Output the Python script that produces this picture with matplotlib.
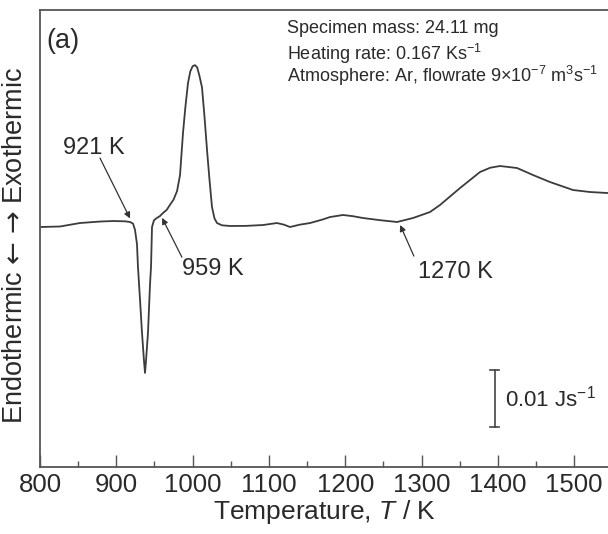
import matplotlib
matplotlib.use("Agg")
import matplotlib.pyplot as plt

FONT = ['Liberation Sans', 'DejaVu Sans']
plt.rcParams['font.family'] = FONT
plt.rcParams['mathtext.fontset'] = 'custom'
plt.rcParams['mathtext.rm'] = 'Liberation Sans'
plt.rcParams['mathtext.it'] = 'Liberation Sans:italic'
plt.rcParams['mathtext.sf'] = 'DejaVu Sans'
plt.rcParams['mathtext.default'] = 'regular'

# Temperature (K) and heat flow (mW, relative to baseline)
temperature = [800.0, 826.2, 852.4, 878.6, 895.7, 911.4, 918.0, 921.9, 924.5, 927.1,
               928.4, 931.1, 933.7, 936.3, 937.6, 938.9, 941.5, 944.2, 945.5, 946.8,
               949.4, 953.3, 957.0, 961.2, 966.0, 970.4, 975.0, 979.6, 983.5, 987.4,
               990.5, 994.0, 997.0, 1000.0, 1003.1, 1006.0, 1009.0, 1012.3, 1015.5, 1018.9,
               1022.0, 1025.4, 1028.7, 1032.0, 1038.5, 1049.0, 1070.0, 1092.3, 1110.6, 1120.0,
               1127.7, 1140.0, 1153.9, 1170.0, 1180.1, 1197.1, 1210.0, 1223.3, 1245.6, 1267.9,
               1288.9, 1311.1, 1324.2, 1350.5, 1376.7, 1390.0, 1402.9, 1425.2, 1446.1, 1468.4,
               1498.6, 1520.8, 1544.4]
heat_flow = [0.0, 0.09, 0.70, 0.96, 1.05, 1.0, 0.88, 0.6, -0.5, -3.0,
             -7.0, -12.8, -18.6, -23.5, -25.6, -23.5, -18.6, -10.0, -7.0, 0.0,
             1.2, 1.6, 1.9, 2.46, 3.0, 3.9, 4.8, 6.3, 9.1, 16.5,
             21.0, 25.3, 27.3, 28.2, 28.4, 28.0, 26.5, 24.5, 19.5, 13.5,
             8.5, 3.5, 1.5, 0.7, 0.3, 0.18, 0.2, 0.35, 0.70, 0.4,
             0.0, 0.4, 0.7, 1.3, 1.75, 2.11, 1.9, 1.58, 1.2, 0.88,
             1.58, 2.63, 3.86, 6.84, 9.65, 10.4, 10.70, 10.35, 9.12, 7.89,
             6.49, 6.14, 5.96]

x_ticks = [800, 900, 1000, 1100, 1200, 1300, 1400, 1500]
x_minor = [850, 950, 1050, 1150, 1250, 1350, 1450]
info_lines = ["Specimen mass: 24.11 mg",
              "Heating rate: 0.167 Ks$^{-1}$",
              "Atmosphere: Ar, flowrate 9×10$^{-7}$ m$^{3}$s$^{-1}$"]

W, H = 608, 534
fig = plt.figure(figsize=(W / 100, H / 100), dpi=100)
ax = fig.add_axes([40 / W, (H - 467) / H, 1 - 40 / W, (467 - 10) / H])

txt_c = '#2a2a2a'
ax.plot(temperature, heat_flow, color='#3c3c3c', lw=1.3)

ax.set_xlim(800, 1544.4)
ax.set_ylim(-42.1, 38.07)

ax.set_xticks(x_ticks)
ax.set_xticks(x_minor, minor=True)
ax.set_yticks([])
ax.tick_params(axis='x', which='major', direction='in', length=8.5, width=1.0,
               colors='#555555', labelcolor=txt_c, labelsize=18.5, pad=4)
ax.tick_params(axis='x', which='minor', direction='in', length=4.3, width=1.0,
               colors='#555555')
for s in ['left', 'bottom', 'top']:
    ax.spines[s].set_color('#555555')
    ax.spines[s].set_linewidth(1.3)
ax.spines['right'].set_visible(False)

ax.set_xlabel(r'Temperature, $\mathit{T}$ / K', fontsize=19, color=txt_c, labelpad=1)
ax.set_ylabel(r'Endothermic $\mathsf{←}$ $\mathsf{→}$ Exothermic', fontsize=19.5, color=txt_c)
ax.yaxis.set_label_coords(-0.021, 0.486)

ax.text(809, 34.9, '(a)', fontsize=19.5, color=txt_c, va='top', ha='left')

for i, t in enumerate(info_lines):
    ax.text(1123.7, 36.4 - i * 3.85, t, fontsize=13, color=txt_c,
            va='top', ha='left')

arrow_kw = dict(arrowstyle='-|>', color='#333333', lw=0.9, mutation_scale=9,
                shrinkA=0, shrinkB=0)
ax.annotate('', xy=(918, 1.5), xytext=(878.6, 12.1), arrowprops=arrow_kw)
ax.text(870.8, 13.9, '921 K', fontsize=17, color=txt_c, ha='center', va='center')
ax.annotate('', xy=(960, 1.6), xytext=(986, -5.3), arrowprops=arrow_kw)
ax.text(1026, -7.3, '959 K', fontsize=17, color=txt_c, ha='center', va='center')
ax.annotate('', xy=(1272, 0.35), xytext=(1290, -5.1), arrowprops=arrow_kw)
ax.text(1344, -7.9, '1270 K', fontsize=17, color=txt_c, ha='center', va='center')

# scale bar: 0.01 J/s = 10 mW
scale_T = 1396
scale_bottom = -35.1
scale_len = 10.0
ax.plot([scale_T, scale_T], [scale_bottom, scale_bottom + scale_len], color='#444444', lw=1.2)
for yy in (scale_bottom, scale_bottom + scale_len):
    ax.plot([scale_T - 6, scale_T + 6], [yy, yy], color='#444444', lw=1.2)
ax.text(1409.4, scale_bottom + scale_len / 2, '0.01 Js$^{-1}$', fontsize=16,
        color=txt_c, ha='left', va='center')

fig.savefig('out.png', dpi=100)
